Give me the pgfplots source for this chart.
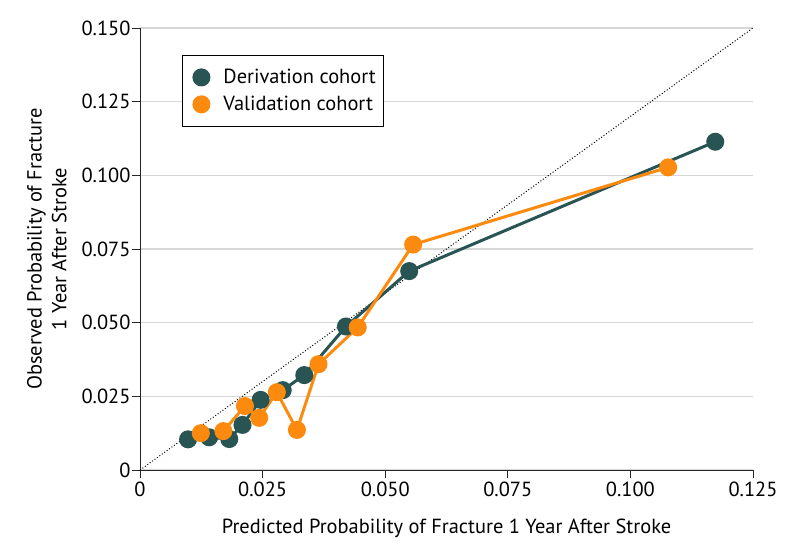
\documentclass[border=0pt]{standalone}
\usepackage{fontspec}
\setmainfont{PT Sans}
\usepackage{pgfplots}
\pgfplotsset{compat=1.18}
\definecolor{derive}{RGB}{40,84,84}
\definecolor{valid}{RGB}{252,138,14}
\definecolor{gridgray}{RGB}{214,214,214}
\newcommand{\chartfont}{\fontsize{20.5}{25}\selectfont}
\begin{document}
\begin{tikzpicture}
\useasboundingbox (-140bp,-86bp) rectangle (654bp,470bp);
\begin{axis}[
  at={(0,0)}, anchor=south west,
  scale only axis,
  width=613bp, height=442bp,
  xmin=0, xmax=0.125, ymin=0, ymax=0.15,
  axis x line*=bottom, axis y line*=left,
  axis line style={line width=0.9bp, black!85},
  tick align=outside, major tick length=8bp,
  tick style={line width=0.9bp, black!85},
  xtick={0,0.025,0.05,0.075,0.1,0.125},
  xticklabels={0,0.025,0.050,0.075,0.100,0.125},
  ytick={0,0.025,0.05,0.075,0.1,0.125,0.15},
  yticklabels={0,0.025,0.050,0.075,0.100,0.125,0.150},
  scaled ticks=false,
  /pgf/number format/assume math mode=true,
  ymajorgrids, grid style={gridgray, line width=1.3bp},
  ticklabel style={font=\chartfont},
  yticklabel style={xshift=2bp},
  xlabel={Predicted Probability of Fracture 1 Year After Stroke},
  ylabel={Observed Probability of Fracture\\1 Year After Stroke},
  label style={font=\chartfont},
  ylabel style={align=center, yshift=8bp},
  xlabel style={yshift=-16bp},
  legend style={at={(0.0685,0.939)}, anchor=north west, draw=black, line width=0.9bp,
    font=\chartfont, inner xsep=5bp, inner ysep=11bp, row sep=5bp,
    nodes={inner xsep=3bp, inner ysep=3bp}},
  legend cell align={left},
  legend image code/.code={
    \path[draw=none, fill=none] (0bp,0bp) -- (33bp,0bp);
    \draw[#1] plot coordinates {(14bp,0bp)};},
  clip=false,
]
\addplot[black, dotted, line width=1bp, forget plot] coordinates {(0,0) (0.125,0.15)};

\addplot[derive, line width=3bp, mark=*, mark size=7.5bp, mark options={solid, fill=derive, draw=derive}] coordinates {
  (0.0098, 0.0104)
  (0.0141, 0.0111)
  (0.0182, 0.0105)
  (0.0209, 0.0153)
  (0.0246, 0.0238)
  (0.0291, 0.0271)
  (0.0335, 0.0322)
  (0.0420, 0.0487)
  (0.0549, 0.0675)
  (0.1173, 0.1114)
};
\addplot[valid, line width=3bp, mark=*, mark size=7.5bp, mark options={solid, fill=valid, draw=valid}] coordinates {
  (0.0124, 0.0125)
  (0.0170, 0.0132)
  (0.0214, 0.0217)
  (0.0243, 0.0177)
  (0.0279, 0.0264)
  (0.0320, 0.0136)
  (0.0364, 0.0359)
  (0.0444, 0.0484)
  (0.0557, 0.0765)
  (0.1077, 0.1027)
};
\legend{Derivation cohort, Validation cohort}
\end{axis}
\end{tikzpicture}
\end{document}
